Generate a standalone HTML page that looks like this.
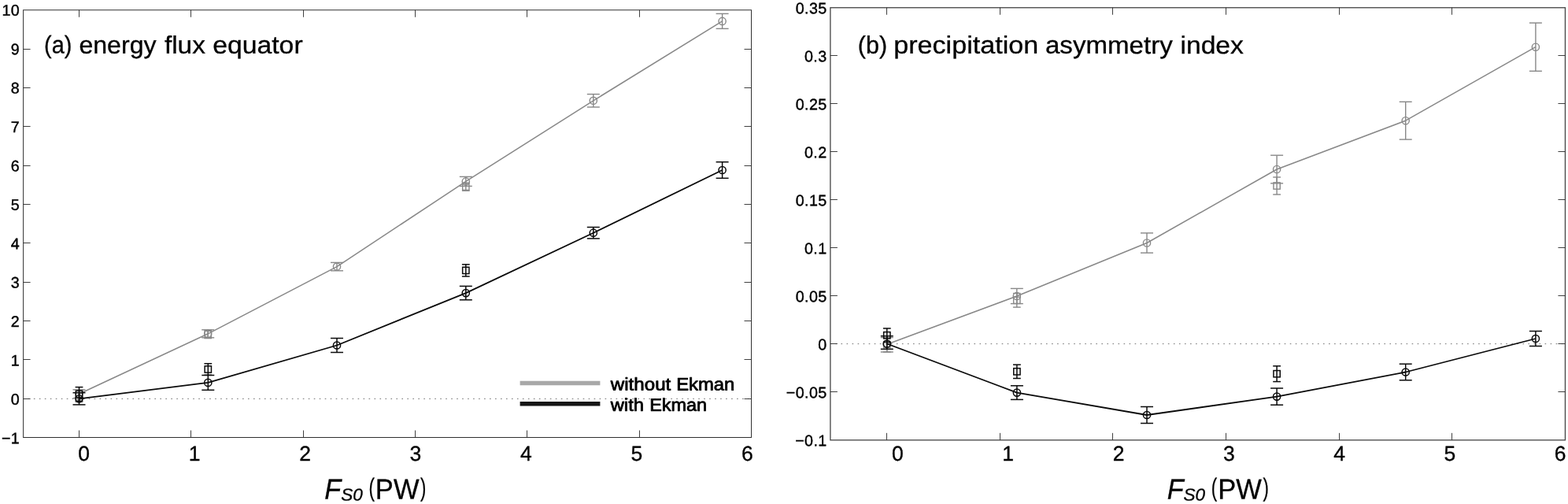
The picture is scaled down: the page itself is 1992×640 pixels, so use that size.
<!DOCTYPE html>
<html lang="en">
<head>
<meta charset="utf-8">
<title>Energy flux equator and precipitation asymmetry index</title>
<style>
html,body{margin:0;padding:0;background:#fff;}
body{width:1992px;height:640px;overflow:hidden;}
svg{display:block;}
svg text{font-family:"Liberation Sans", sans-serif;fill:#000;text-rendering:geometricPrecision;}
</style>
</head>
<body>
<svg width="1992" height="640" viewBox="0 0 1992 640">
<rect x="0" y="0" width="1992" height="640" fill="#fff"/>
<line x1="35.90" y1="506.40" x2="954.50" y2="506.40" stroke="#727272" stroke-width="1.0" stroke-dasharray="1.6 5.378"/>
<line x1="100.50" y1="494.80" x2="100.50" y2="510.60" stroke="#888888" stroke-width="1.4" />
<line x1="95.60" y1="494.80" x2="105.40" y2="494.80" stroke="#888888" stroke-width="1.4" />
<line x1="95.60" y1="510.60" x2="105.40" y2="510.60" stroke="#888888" stroke-width="1.4" />
<rect x="96.35" y="498.55" width="8.3" height="8.3" fill="none" stroke="#888888" stroke-width="1.4"/>
<line x1="264.20" y1="419.40" x2="264.20" y2="429.60" stroke="#888888" stroke-width="1.4" />
<line x1="259.30" y1="419.40" x2="269.10" y2="419.40" stroke="#888888" stroke-width="1.4" />
<line x1="259.30" y1="429.60" x2="269.10" y2="429.60" stroke="#888888" stroke-width="1.4" />
<rect x="260.05" y="420.35" width="8.3" height="8.3" fill="none" stroke="#888888" stroke-width="1.4"/>
<line x1="591.80" y1="232.20" x2="591.80" y2="242.20" stroke="#888888" stroke-width="1.4" />
<line x1="586.90" y1="232.20" x2="596.70" y2="232.20" stroke="#888888" stroke-width="1.4" />
<line x1="586.90" y1="242.20" x2="596.70" y2="242.20" stroke="#888888" stroke-width="1.4" />
<rect x="587.65" y="233.05" width="8.3" height="8.3" fill="none" stroke="#888888" stroke-width="1.4"/>
<line x1="100.50" y1="494.80" x2="100.50" y2="505.60" stroke="#888888" stroke-width="1.4" />
<line x1="92.50" y1="494.80" x2="108.50" y2="494.80" stroke="#888888" stroke-width="1.4" />
<line x1="92.50" y1="505.60" x2="108.50" y2="505.60" stroke="#888888" stroke-width="1.4" />
<circle cx="100.50" cy="500.20" r="4.6" fill="none" stroke="#888888" stroke-width="1.4"/>
<line x1="264.20" y1="418.80" x2="264.20" y2="428.80" stroke="#888888" stroke-width="1.4" />
<line x1="256.20" y1="418.80" x2="272.20" y2="418.80" stroke="#888888" stroke-width="1.4" />
<line x1="256.20" y1="428.80" x2="272.20" y2="428.80" stroke="#888888" stroke-width="1.4" />
<circle cx="264.20" cy="423.80" r="4.6" fill="none" stroke="#888888" stroke-width="1.4"/>
<line x1="428.00" y1="333.40" x2="428.00" y2="343.80" stroke="#888888" stroke-width="1.4" />
<line x1="420.00" y1="333.40" x2="436.00" y2="333.40" stroke="#888888" stroke-width="1.4" />
<line x1="420.00" y1="343.80" x2="436.00" y2="343.80" stroke="#888888" stroke-width="1.4" />
<circle cx="428.00" cy="338.60" r="4.6" fill="none" stroke="#888888" stroke-width="1.4"/>
<line x1="591.80" y1="224.40" x2="591.80" y2="236.40" stroke="#888888" stroke-width="1.4" />
<line x1="583.80" y1="224.40" x2="599.80" y2="224.40" stroke="#888888" stroke-width="1.4" />
<line x1="583.80" y1="236.40" x2="599.80" y2="236.40" stroke="#888888" stroke-width="1.4" />
<circle cx="591.80" cy="230.40" r="4.6" fill="none" stroke="#888888" stroke-width="1.4"/>
<line x1="753.80" y1="119.60" x2="753.80" y2="136.00" stroke="#888888" stroke-width="1.4" />
<line x1="745.80" y1="119.60" x2="761.80" y2="119.60" stroke="#888888" stroke-width="1.4" />
<line x1="745.80" y1="136.00" x2="761.80" y2="136.00" stroke="#888888" stroke-width="1.4" />
<circle cx="753.80" cy="127.80" r="4.6" fill="none" stroke="#888888" stroke-width="1.4"/>
<line x1="917.60" y1="17.40" x2="917.60" y2="36.40" stroke="#888888" stroke-width="1.4" />
<line x1="909.60" y1="17.40" x2="925.60" y2="17.40" stroke="#888888" stroke-width="1.4" />
<line x1="909.60" y1="36.40" x2="925.60" y2="36.40" stroke="#888888" stroke-width="1.4" />
<circle cx="917.60" cy="26.90" r="4.6" fill="none" stroke="#888888" stroke-width="1.4"/>
<polyline points="100.50,500.20 264.20,423.80 428.00,338.60 591.80,230.40 753.80,127.80 917.60,26.90" fill="none" stroke="#888888" stroke-width="1.5" stroke-linejoin="round"/>
<line x1="100.50" y1="491.60" x2="100.50" y2="509.20" stroke="#0a0a0a" stroke-width="1.5" />
<line x1="95.60" y1="491.60" x2="105.40" y2="491.60" stroke="#0a0a0a" stroke-width="1.5" />
<line x1="95.60" y1="509.20" x2="105.40" y2="509.20" stroke="#0a0a0a" stroke-width="1.5" />
<rect x="96.35" y="496.25" width="8.3" height="8.3" fill="none" stroke="#0a0a0a" stroke-width="1.5"/>
<line x1="264.30" y1="461.70" x2="264.30" y2="476.30" stroke="#0a0a0a" stroke-width="1.5" />
<line x1="259.40" y1="461.70" x2="269.20" y2="461.70" stroke="#0a0a0a" stroke-width="1.5" />
<line x1="259.40" y1="476.30" x2="269.20" y2="476.30" stroke="#0a0a0a" stroke-width="1.5" />
<rect x="260.15" y="464.85" width="8.3" height="8.3" fill="none" stroke="#0a0a0a" stroke-width="1.5"/>
<line x1="591.80" y1="335.80" x2="591.80" y2="351.00" stroke="#0a0a0a" stroke-width="1.5" />
<line x1="586.90" y1="335.80" x2="596.70" y2="335.80" stroke="#0a0a0a" stroke-width="1.5" />
<line x1="586.90" y1="351.00" x2="596.70" y2="351.00" stroke="#0a0a0a" stroke-width="1.5" />
<rect x="587.65" y="339.25" width="8.3" height="8.3" fill="none" stroke="#0a0a0a" stroke-width="1.5"/>
<line x1="100.50" y1="498.70" x2="100.50" y2="513.90" stroke="#0a0a0a" stroke-width="1.5" />
<line x1="92.50" y1="498.70" x2="108.50" y2="498.70" stroke="#0a0a0a" stroke-width="1.5" />
<line x1="92.50" y1="513.90" x2="108.50" y2="513.90" stroke="#0a0a0a" stroke-width="1.5" />
<circle cx="100.50" cy="506.30" r="4.6" fill="none" stroke="#0a0a0a" stroke-width="1.5"/>
<line x1="264.30" y1="476.50" x2="264.30" y2="495.30" stroke="#0a0a0a" stroke-width="1.5" />
<line x1="256.30" y1="476.50" x2="272.30" y2="476.50" stroke="#0a0a0a" stroke-width="1.5" />
<line x1="256.30" y1="495.30" x2="272.30" y2="495.30" stroke="#0a0a0a" stroke-width="1.5" />
<circle cx="264.30" cy="485.90" r="4.6" fill="none" stroke="#0a0a0a" stroke-width="1.5"/>
<line x1="428.00" y1="429.50" x2="428.00" y2="447.50" stroke="#0a0a0a" stroke-width="1.5" />
<line x1="420.00" y1="429.50" x2="436.00" y2="429.50" stroke="#0a0a0a" stroke-width="1.5" />
<line x1="420.00" y1="447.50" x2="436.00" y2="447.50" stroke="#0a0a0a" stroke-width="1.5" />
<circle cx="428.00" cy="438.50" r="4.6" fill="none" stroke="#0a0a0a" stroke-width="1.5"/>
<line x1="591.80" y1="363.40" x2="591.80" y2="380.80" stroke="#0a0a0a" stroke-width="1.5" />
<line x1="583.80" y1="363.40" x2="599.80" y2="363.40" stroke="#0a0a0a" stroke-width="1.5" />
<line x1="583.80" y1="380.80" x2="599.80" y2="380.80" stroke="#0a0a0a" stroke-width="1.5" />
<circle cx="591.80" cy="372.10" r="4.6" fill="none" stroke="#0a0a0a" stroke-width="1.5"/>
<line x1="753.80" y1="288.50" x2="753.80" y2="302.90" stroke="#0a0a0a" stroke-width="1.5" />
<line x1="745.80" y1="288.50" x2="761.80" y2="288.50" stroke="#0a0a0a" stroke-width="1.5" />
<line x1="745.80" y1="302.90" x2="761.80" y2="302.90" stroke="#0a0a0a" stroke-width="1.5" />
<circle cx="753.80" cy="295.70" r="4.6" fill="none" stroke="#0a0a0a" stroke-width="1.5"/>
<line x1="917.60" y1="205.70" x2="917.60" y2="226.30" stroke="#0a0a0a" stroke-width="1.5" />
<line x1="909.60" y1="205.70" x2="925.60" y2="205.70" stroke="#0a0a0a" stroke-width="1.5" />
<line x1="909.60" y1="226.30" x2="925.60" y2="226.30" stroke="#0a0a0a" stroke-width="1.5" />
<circle cx="917.60" cy="216.00" r="4.6" fill="none" stroke="#0a0a0a" stroke-width="1.5"/>
<polyline points="100.50,506.30 264.30,485.90 428.00,438.50 591.80,372.10 753.80,295.70 917.60,216.00" fill="none" stroke="#0a0a0a" stroke-width="1.8" stroke-linejoin="round"/>
<rect x="29.60" y="12.75" width="924.90" height="542.75" fill="none" stroke="#303030" stroke-width="1.0"/>
<line x1="100.50" y1="555.50" x2="100.50" y2="546.50" stroke="#2a2a2a" stroke-width="0.9" />
<line x1="100.50" y1="12.75" x2="100.50" y2="21.75" stroke="#2a2a2a" stroke-width="0.9" />
<line x1="242.50" y1="555.50" x2="242.50" y2="546.50" stroke="#2a2a2a" stroke-width="0.9" />
<line x1="242.50" y1="12.75" x2="242.50" y2="21.75" stroke="#2a2a2a" stroke-width="0.9" />
<line x1="385.50" y1="555.50" x2="385.50" y2="546.50" stroke="#2a2a2a" stroke-width="0.9" />
<line x1="385.50" y1="12.75" x2="385.50" y2="21.75" stroke="#2a2a2a" stroke-width="0.9" />
<line x1="527.50" y1="555.50" x2="527.50" y2="546.50" stroke="#2a2a2a" stroke-width="0.9" />
<line x1="527.50" y1="12.75" x2="527.50" y2="21.75" stroke="#2a2a2a" stroke-width="0.9" />
<line x1="669.50" y1="555.50" x2="669.50" y2="546.50" stroke="#2a2a2a" stroke-width="0.9" />
<line x1="669.50" y1="12.75" x2="669.50" y2="21.75" stroke="#2a2a2a" stroke-width="0.9" />
<line x1="812.50" y1="555.50" x2="812.50" y2="546.50" stroke="#2a2a2a" stroke-width="0.9" />
<line x1="812.50" y1="12.75" x2="812.50" y2="21.75" stroke="#2a2a2a" stroke-width="0.9" />
<line x1="29.60" y1="62.50" x2="38.60" y2="62.50" stroke="#2a2a2a" stroke-width="0.9" />
<line x1="954.50" y1="62.50" x2="945.50" y2="62.50" stroke="#2a2a2a" stroke-width="0.9" />
<line x1="29.60" y1="111.50" x2="38.60" y2="111.50" stroke="#2a2a2a" stroke-width="0.9" />
<line x1="954.50" y1="111.50" x2="945.50" y2="111.50" stroke="#2a2a2a" stroke-width="0.9" />
<line x1="29.60" y1="160.50" x2="38.60" y2="160.50" stroke="#2a2a2a" stroke-width="0.9" />
<line x1="954.50" y1="160.50" x2="945.50" y2="160.50" stroke="#2a2a2a" stroke-width="0.9" />
<line x1="29.60" y1="210.50" x2="38.60" y2="210.50" stroke="#2a2a2a" stroke-width="0.9" />
<line x1="954.50" y1="210.50" x2="945.50" y2="210.50" stroke="#2a2a2a" stroke-width="0.9" />
<line x1="29.60" y1="259.50" x2="38.60" y2="259.50" stroke="#2a2a2a" stroke-width="0.9" />
<line x1="954.50" y1="259.50" x2="945.50" y2="259.50" stroke="#2a2a2a" stroke-width="0.9" />
<line x1="29.60" y1="308.50" x2="38.60" y2="308.50" stroke="#2a2a2a" stroke-width="0.9" />
<line x1="954.50" y1="308.50" x2="945.50" y2="308.50" stroke="#2a2a2a" stroke-width="0.9" />
<line x1="29.60" y1="358.50" x2="38.60" y2="358.50" stroke="#2a2a2a" stroke-width="0.9" />
<line x1="954.50" y1="358.50" x2="945.50" y2="358.50" stroke="#2a2a2a" stroke-width="0.9" />
<line x1="29.60" y1="407.50" x2="38.60" y2="407.50" stroke="#2a2a2a" stroke-width="0.9" />
<line x1="954.50" y1="407.50" x2="945.50" y2="407.50" stroke="#2a2a2a" stroke-width="0.9" />
<line x1="29.60" y1="456.50" x2="38.60" y2="456.50" stroke="#2a2a2a" stroke-width="0.9" />
<line x1="954.50" y1="456.50" x2="945.50" y2="456.50" stroke="#2a2a2a" stroke-width="0.9" />
<line x1="29.60" y1="506.50" x2="38.60" y2="506.50" stroke="#2a2a2a" stroke-width="0.9" />
<line x1="954.50" y1="506.50" x2="945.50" y2="506.50" stroke="#2a2a2a" stroke-width="0.9" />
<text transform="matrix(1 0.0006 0 1 25.00 19.75)" font-size="19.7" text-anchor="end" font-weight="normal" letter-spacing="0.3" stroke="#000" stroke-width="0.4">10</text>
<text transform="matrix(1 0.0006 0 1 25.00 69.16)" font-size="19.7" text-anchor="end" font-weight="normal" letter-spacing="0.3" stroke="#000" stroke-width="0.4">9</text>
<text transform="matrix(1 0.0006 0 1 25.00 118.57)" font-size="19.7" text-anchor="end" font-weight="normal" letter-spacing="0.3" stroke="#000" stroke-width="0.4">8</text>
<text transform="matrix(1 0.0006 0 1 25.00 167.98)" font-size="19.7" text-anchor="end" font-weight="normal" letter-spacing="0.3" stroke="#000" stroke-width="0.4">7</text>
<text transform="matrix(1 0.0006 0 1 25.00 217.39)" font-size="19.7" text-anchor="end" font-weight="normal" letter-spacing="0.3" stroke="#000" stroke-width="0.4">6</text>
<text transform="matrix(1 0.0006 0 1 25.00 266.80)" font-size="19.7" text-anchor="end" font-weight="normal" letter-spacing="0.3" stroke="#000" stroke-width="0.4">5</text>
<text transform="matrix(1 0.0006 0 1 25.00 316.20)" font-size="19.7" text-anchor="end" font-weight="normal" letter-spacing="0.3" stroke="#000" stroke-width="0.4">4</text>
<text transform="matrix(1 0.0006 0 1 25.00 365.61)" font-size="19.7" text-anchor="end" font-weight="normal" letter-spacing="0.3" stroke="#000" stroke-width="0.4">3</text>
<text transform="matrix(1 0.0006 0 1 25.00 415.02)" font-size="19.7" text-anchor="end" font-weight="normal" letter-spacing="0.3" stroke="#000" stroke-width="0.4">2</text>
<text transform="matrix(1 0.0006 0 1 25.00 464.43)" font-size="19.7" text-anchor="end" font-weight="normal" letter-spacing="0.3" stroke="#000" stroke-width="0.4">1</text>
<text transform="matrix(1 0.0006 0 1 25.00 513.84)" font-size="19.7" text-anchor="end" font-weight="normal" letter-spacing="0.3" stroke="#000" stroke-width="0.4">0</text>
<text transform="matrix(1 0.0006 0 1 25.00 563.25)" font-size="19.7" text-anchor="end" font-weight="normal" letter-spacing="0.3" stroke="#000" stroke-width="0.4">−1</text>
<text transform="matrix(1 0.0006 0 1 106.60 584.90)" font-size="26.5" text-anchor="middle" font-weight="normal" letter-spacing="0" stroke="#000" stroke-width="0.35">0</text>
<text transform="matrix(1 0.0006 0 1 247.05 584.90)" font-size="26.5" text-anchor="middle" font-weight="normal" letter-spacing="0" stroke="#000" stroke-width="0.35">1</text>
<text transform="matrix(1 0.0006 0 1 387.50 584.90)" font-size="26.5" text-anchor="middle" font-weight="normal" letter-spacing="0" stroke="#000" stroke-width="0.35">2</text>
<text transform="matrix(1 0.0006 0 1 527.95 584.90)" font-size="26.5" text-anchor="middle" font-weight="normal" letter-spacing="0" stroke="#000" stroke-width="0.35">3</text>
<text transform="matrix(1 0.0006 0 1 668.40 584.90)" font-size="26.5" text-anchor="middle" font-weight="normal" letter-spacing="0" stroke="#000" stroke-width="0.35">4</text>
<text transform="matrix(1 0.0006 0 1 808.85 584.90)" font-size="26.5" text-anchor="middle" font-weight="normal" letter-spacing="0" stroke="#000" stroke-width="0.35">5</text>
<text transform="matrix(1 0.0006 0 1 949.30 584.90)" font-size="26.5" text-anchor="middle" font-weight="normal" letter-spacing="0" stroke="#000" stroke-width="0.35">6</text>
<text transform="matrix(1 0.0006 0 1 57.70 67.60)" stroke="#000" stroke-width="0.3" ><tspan x="-1.62" y="0.00" font-size="31.3" textLength="35.35" lengthAdjust="spacingAndGlyphs" >(a)</tspan> <tspan x="42.72" y="0.00" font-size="31.3" textLength="98.13" lengthAdjust="spacingAndGlyphs" >energy</tspan> <tspan x="151.23" y="0.00" font-size="31.3" textLength="51.98" lengthAdjust="spacingAndGlyphs" >flux</tspan> <tspan x="212.45" y="0.00" font-size="31.3" textLength="114.49" lengthAdjust="spacingAndGlyphs" >equator</tspan></text>
<text transform="matrix(1 0.0006 0 1 413.30 633.40)" stroke="#000" stroke-width="0.3" ><tspan x="-0.95" y="0.00" font-size="36.0" textLength="20.89" lengthAdjust="spacingAndGlyphs" font-style="italic">F</tspan><tspan x="19.88" y="2.20" font-size="21.6" textLength="27.60" lengthAdjust="spacingAndGlyphs" font-style="italic">S0</tspan> <tspan x="55.19" y="-3.20" font-size="32.4" textLength="7.44" lengthAdjust="spacingAndGlyphs" >(</tspan><tspan x="63.56" y="0.00" font-size="36.0" textLength="55.64" lengthAdjust="spacingAndGlyphs" >PW</tspan><tspan x="120.80" y="-3.20" font-size="32.4" textLength="7.32" lengthAdjust="spacingAndGlyphs" >)</tspan></text>
<line x1="660.60" y1="486.50" x2="762.40" y2="486.50" stroke="#a8a8a8" stroke-width="5.5" />
<line x1="660.60" y1="512.80" x2="762.40" y2="512.80" stroke="#161616" stroke-width="5.5" />
<text transform="matrix(1 0.0006 0 1 775.20 495.50)" stroke="#000" stroke-width="0.8" stroke-linejoin="round" ><tspan x="0.54" y="0.00" font-size="22.5" textLength="76.55" lengthAdjust="spacingAndGlyphs" >without</tspan> <tspan x="83.96" y="0.00" font-size="22.5" textLength="74.13" lengthAdjust="spacingAndGlyphs" >Ekman</tspan></text>
<text transform="matrix(1 0.0006 0 1 775.20 521.80)" stroke="#000" stroke-width="0.8" stroke-linejoin="round" ><tspan x="0.53" y="0.00" font-size="22.5" textLength="42.24" lengthAdjust="spacingAndGlyphs" >with</tspan> <tspan x="49.94" y="0.00" font-size="22.5" textLength="72.94" lengthAdjust="spacingAndGlyphs" >Ekman</tspan></text>
<line x1="1061.47" y1="436.64" x2="1988.45" y2="436.64" stroke="#727272" stroke-width="1.0" stroke-dasharray="1.6 5.440"/>
<line x1="1126.80" y1="428.60" x2="1126.80" y2="447.00" stroke="#888888" stroke-width="1.4" />
<line x1="1121.90" y1="428.60" x2="1131.70" y2="428.60" stroke="#888888" stroke-width="1.4" />
<line x1="1121.90" y1="447.00" x2="1131.70" y2="447.00" stroke="#888888" stroke-width="1.4" />
<rect x="1122.65" y="433.45" width="8.3" height="8.3" fill="none" stroke="#888888" stroke-width="1.4"/>
<line x1="1291.80" y1="372.50" x2="1291.80" y2="390.10" stroke="#888888" stroke-width="1.4" />
<line x1="1286.90" y1="372.50" x2="1296.70" y2="372.50" stroke="#888888" stroke-width="1.4" />
<line x1="1286.90" y1="390.10" x2="1296.70" y2="390.10" stroke="#888888" stroke-width="1.4" />
<rect x="1287.65" y="377.15" width="8.3" height="8.3" fill="none" stroke="#888888" stroke-width="1.4"/>
<line x1="1622.10" y1="225.00" x2="1622.10" y2="247.00" stroke="#888888" stroke-width="1.4" />
<line x1="1617.20" y1="225.00" x2="1627.00" y2="225.00" stroke="#888888" stroke-width="1.4" />
<line x1="1617.20" y1="247.00" x2="1627.00" y2="247.00" stroke="#888888" stroke-width="1.4" />
<rect x="1617.95" y="231.85" width="8.3" height="8.3" fill="none" stroke="#888888" stroke-width="1.4"/>
<line x1="1126.80" y1="428.60" x2="1126.80" y2="447.00" stroke="#888888" stroke-width="1.4" />
<line x1="1118.80" y1="428.60" x2="1134.80" y2="428.60" stroke="#888888" stroke-width="1.4" />
<line x1="1118.80" y1="447.00" x2="1134.80" y2="447.00" stroke="#888888" stroke-width="1.4" />
<circle cx="1126.80" cy="437.30" r="4.6" fill="none" stroke="#888888" stroke-width="1.4"/>
<line x1="1291.80" y1="366.40" x2="1291.80" y2="385.60" stroke="#888888" stroke-width="1.4" />
<line x1="1283.80" y1="366.40" x2="1299.80" y2="366.40" stroke="#888888" stroke-width="1.4" />
<line x1="1283.80" y1="385.60" x2="1299.80" y2="385.60" stroke="#888888" stroke-width="1.4" />
<circle cx="1291.80" cy="376.00" r="4.6" fill="none" stroke="#888888" stroke-width="1.4"/>
<line x1="1457.00" y1="295.90" x2="1457.00" y2="321.10" stroke="#888888" stroke-width="1.4" />
<line x1="1449.00" y1="295.90" x2="1465.00" y2="295.90" stroke="#888888" stroke-width="1.4" />
<line x1="1449.00" y1="321.10" x2="1465.00" y2="321.10" stroke="#888888" stroke-width="1.4" />
<circle cx="1457.00" cy="308.50" r="4.6" fill="none" stroke="#888888" stroke-width="1.4"/>
<line x1="1622.10" y1="197.20" x2="1622.10" y2="232.80" stroke="#888888" stroke-width="1.4" />
<line x1="1614.10" y1="197.20" x2="1630.10" y2="197.20" stroke="#888888" stroke-width="1.4" />
<line x1="1614.10" y1="232.80" x2="1630.10" y2="232.80" stroke="#888888" stroke-width="1.4" />
<circle cx="1622.10" cy="215.00" r="4.6" fill="none" stroke="#888888" stroke-width="1.4"/>
<line x1="1785.70" y1="129.30" x2="1785.70" y2="177.10" stroke="#888888" stroke-width="1.4" />
<line x1="1777.70" y1="129.30" x2="1793.70" y2="129.30" stroke="#888888" stroke-width="1.4" />
<line x1="1777.70" y1="177.10" x2="1793.70" y2="177.10" stroke="#888888" stroke-width="1.4" />
<circle cx="1785.70" cy="153.20" r="4.6" fill="none" stroke="#888888" stroke-width="1.4"/>
<line x1="1950.90" y1="29.10" x2="1950.90" y2="90.30" stroke="#888888" stroke-width="1.4" />
<line x1="1942.90" y1="29.10" x2="1958.90" y2="29.10" stroke="#888888" stroke-width="1.4" />
<line x1="1942.90" y1="90.30" x2="1958.90" y2="90.30" stroke="#888888" stroke-width="1.4" />
<circle cx="1950.90" cy="59.70" r="4.6" fill="none" stroke="#888888" stroke-width="1.4"/>
<polyline points="1126.80,437.30 1291.80,376.00 1457.00,308.50 1622.10,215.00 1785.70,153.20 1950.90,59.70" fill="none" stroke="#888888" stroke-width="1.5" stroke-linejoin="round"/>
<line x1="1126.80" y1="417.00" x2="1126.80" y2="434.50" stroke="#0a0a0a" stroke-width="1.5" />
<line x1="1121.90" y1="417.00" x2="1131.70" y2="417.00" stroke="#0a0a0a" stroke-width="1.5" />
<line x1="1121.90" y1="434.50" x2="1131.70" y2="434.50" stroke="#0a0a0a" stroke-width="1.5" />
<rect x="1122.65" y="421.60" width="8.3" height="8.3" fill="none" stroke="#0a0a0a" stroke-width="1.5"/>
<line x1="1291.90" y1="463.10" x2="1291.90" y2="480.50" stroke="#0a0a0a" stroke-width="1.5" />
<line x1="1287.00" y1="463.10" x2="1296.80" y2="463.10" stroke="#0a0a0a" stroke-width="1.5" />
<line x1="1287.00" y1="480.50" x2="1296.80" y2="480.50" stroke="#0a0a0a" stroke-width="1.5" />
<rect x="1287.75" y="467.65" width="8.3" height="8.3" fill="none" stroke="#0a0a0a" stroke-width="1.5"/>
<line x1="1622.10" y1="464.80" x2="1622.10" y2="484.60" stroke="#0a0a0a" stroke-width="1.5" />
<line x1="1617.20" y1="464.80" x2="1627.00" y2="464.80" stroke="#0a0a0a" stroke-width="1.5" />
<line x1="1617.20" y1="484.60" x2="1627.00" y2="484.60" stroke="#0a0a0a" stroke-width="1.5" />
<rect x="1617.95" y="470.55" width="8.3" height="8.3" fill="none" stroke="#0a0a0a" stroke-width="1.5"/>
<line x1="1126.80" y1="426.70" x2="1126.80" y2="443.30" stroke="#0a0a0a" stroke-width="1.5" />
<line x1="1118.80" y1="426.70" x2="1134.80" y2="426.70" stroke="#0a0a0a" stroke-width="1.5" />
<line x1="1118.80" y1="443.30" x2="1134.80" y2="443.30" stroke="#0a0a0a" stroke-width="1.5" />
<circle cx="1126.80" cy="436.50" r="4.6" fill="none" stroke="#0a0a0a" stroke-width="1.5"/>
<line x1="1291.90" y1="489.80" x2="1291.90" y2="507.40" stroke="#0a0a0a" stroke-width="1.5" />
<line x1="1283.90" y1="489.80" x2="1299.90" y2="489.80" stroke="#0a0a0a" stroke-width="1.5" />
<line x1="1283.90" y1="507.40" x2="1299.90" y2="507.40" stroke="#0a0a0a" stroke-width="1.5" />
<circle cx="1291.90" cy="498.60" r="4.6" fill="none" stroke="#0a0a0a" stroke-width="1.5"/>
<line x1="1457.00" y1="516.50" x2="1457.00" y2="537.50" stroke="#0a0a0a" stroke-width="1.5" />
<line x1="1449.00" y1="516.50" x2="1465.00" y2="516.50" stroke="#0a0a0a" stroke-width="1.5" />
<line x1="1449.00" y1="537.50" x2="1465.00" y2="537.50" stroke="#0a0a0a" stroke-width="1.5" />
<circle cx="1457.00" cy="527.00" r="4.6" fill="none" stroke="#0a0a0a" stroke-width="1.5"/>
<line x1="1622.10" y1="493.00" x2="1622.10" y2="514.20" stroke="#0a0a0a" stroke-width="1.5" />
<line x1="1614.10" y1="493.00" x2="1630.10" y2="493.00" stroke="#0a0a0a" stroke-width="1.5" />
<line x1="1614.10" y1="514.20" x2="1630.10" y2="514.20" stroke="#0a0a0a" stroke-width="1.5" />
<circle cx="1622.10" cy="503.60" r="4.6" fill="none" stroke="#0a0a0a" stroke-width="1.5"/>
<line x1="1785.70" y1="462.20" x2="1785.70" y2="482.80" stroke="#0a0a0a" stroke-width="1.5" />
<line x1="1777.70" y1="462.20" x2="1793.70" y2="462.20" stroke="#0a0a0a" stroke-width="1.5" />
<line x1="1777.70" y1="482.80" x2="1793.70" y2="482.80" stroke="#0a0a0a" stroke-width="1.5" />
<circle cx="1785.70" cy="472.50" r="4.6" fill="none" stroke="#0a0a0a" stroke-width="1.5"/>
<line x1="1950.90" y1="420.50" x2="1950.90" y2="439.50" stroke="#0a0a0a" stroke-width="1.5" />
<line x1="1942.90" y1="420.50" x2="1958.90" y2="420.50" stroke="#0a0a0a" stroke-width="1.5" />
<line x1="1942.90" y1="439.50" x2="1958.90" y2="439.50" stroke="#0a0a0a" stroke-width="1.5" />
<circle cx="1950.90" cy="430.00" r="4.6" fill="none" stroke="#0a0a0a" stroke-width="1.5"/>
<polyline points="1126.80,436.50 1291.90,498.60 1457.00,527.00 1622.10,503.60 1785.70,472.50 1950.90,430.00" fill="none" stroke="#0a0a0a" stroke-width="1.8" stroke-linejoin="round"/>
<rect x="1054.90" y="9.75" width="933.55" height="549.10" fill="none" stroke="#444" stroke-width="1.3"/>
<line x1="1126.50" y1="558.85" x2="1126.50" y2="549.85" stroke="#2a2a2a" stroke-width="0.9" />
<line x1="1126.50" y1="9.75" x2="1126.50" y2="18.75" stroke="#2a2a2a" stroke-width="0.9" />
<line x1="1270.50" y1="558.85" x2="1270.50" y2="549.85" stroke="#2a2a2a" stroke-width="0.9" />
<line x1="1270.50" y1="9.75" x2="1270.50" y2="18.75" stroke="#2a2a2a" stroke-width="0.9" />
<line x1="1413.50" y1="558.85" x2="1413.50" y2="549.85" stroke="#2a2a2a" stroke-width="0.9" />
<line x1="1413.50" y1="9.75" x2="1413.50" y2="18.75" stroke="#2a2a2a" stroke-width="0.9" />
<line x1="1557.50" y1="558.85" x2="1557.50" y2="549.85" stroke="#2a2a2a" stroke-width="0.9" />
<line x1="1557.50" y1="9.75" x2="1557.50" y2="18.75" stroke="#2a2a2a" stroke-width="0.9" />
<line x1="1701.50" y1="558.85" x2="1701.50" y2="549.85" stroke="#2a2a2a" stroke-width="0.9" />
<line x1="1701.50" y1="9.75" x2="1701.50" y2="18.75" stroke="#2a2a2a" stroke-width="0.9" />
<line x1="1844.50" y1="558.85" x2="1844.50" y2="549.85" stroke="#2a2a2a" stroke-width="0.9" />
<line x1="1844.50" y1="9.75" x2="1844.50" y2="18.75" stroke="#2a2a2a" stroke-width="0.9" />
<line x1="1054.90" y1="70.50" x2="1063.90" y2="70.50" stroke="#2a2a2a" stroke-width="0.9" />
<line x1="1988.45" y1="70.50" x2="1979.45" y2="70.50" stroke="#2a2a2a" stroke-width="0.9" />
<line x1="1054.90" y1="131.50" x2="1063.90" y2="131.50" stroke="#2a2a2a" stroke-width="0.9" />
<line x1="1988.45" y1="131.50" x2="1979.45" y2="131.50" stroke="#2a2a2a" stroke-width="0.9" />
<line x1="1054.90" y1="192.50" x2="1063.90" y2="192.50" stroke="#2a2a2a" stroke-width="0.9" />
<line x1="1988.45" y1="192.50" x2="1979.45" y2="192.50" stroke="#2a2a2a" stroke-width="0.9" />
<line x1="1054.90" y1="253.50" x2="1063.90" y2="253.50" stroke="#2a2a2a" stroke-width="0.9" />
<line x1="1988.45" y1="253.50" x2="1979.45" y2="253.50" stroke="#2a2a2a" stroke-width="0.9" />
<line x1="1054.90" y1="314.50" x2="1063.90" y2="314.50" stroke="#2a2a2a" stroke-width="0.9" />
<line x1="1988.45" y1="314.50" x2="1979.45" y2="314.50" stroke="#2a2a2a" stroke-width="0.9" />
<line x1="1054.90" y1="375.50" x2="1063.90" y2="375.50" stroke="#2a2a2a" stroke-width="0.9" />
<line x1="1988.45" y1="375.50" x2="1979.45" y2="375.50" stroke="#2a2a2a" stroke-width="0.9" />
<line x1="1054.90" y1="436.50" x2="1063.90" y2="436.50" stroke="#2a2a2a" stroke-width="0.9" />
<line x1="1988.45" y1="436.50" x2="1979.45" y2="436.50" stroke="#2a2a2a" stroke-width="0.9" />
<line x1="1054.90" y1="497.50" x2="1063.90" y2="497.50" stroke="#2a2a2a" stroke-width="0.9" />
<line x1="1988.45" y1="497.50" x2="1979.45" y2="497.50" stroke="#2a2a2a" stroke-width="0.9" />
<text transform="matrix(1 0.0006 0 1 1050.60 17.15)" font-size="19.7" text-anchor="end" font-weight="normal" letter-spacing="0.4" stroke="#000" stroke-width="0.4">0.35</text>
<text transform="matrix(1 0.0006 0 1 1050.60 78.16)" font-size="19.7" text-anchor="end" font-weight="normal" letter-spacing="0.4" stroke="#000" stroke-width="0.4">0.3</text>
<text transform="matrix(1 0.0006 0 1 1050.60 139.16)" font-size="19.7" text-anchor="end" font-weight="normal" letter-spacing="0.4" stroke="#000" stroke-width="0.4">0.25</text>
<text transform="matrix(1 0.0006 0 1 1050.60 200.17)" font-size="19.7" text-anchor="end" font-weight="normal" letter-spacing="0.4" stroke="#000" stroke-width="0.4">0.2</text>
<text transform="matrix(1 0.0006 0 1 1050.60 261.17)" font-size="19.7" text-anchor="end" font-weight="normal" letter-spacing="0.4" stroke="#000" stroke-width="0.4">0.15</text>
<text transform="matrix(1 0.0006 0 1 1050.60 322.18)" font-size="19.7" text-anchor="end" font-weight="normal" letter-spacing="0.4" stroke="#000" stroke-width="0.4">0.1</text>
<text transform="matrix(1 0.0006 0 1 1050.60 383.18)" font-size="19.7" text-anchor="end" font-weight="normal" letter-spacing="0.4" stroke="#000" stroke-width="0.4">0.05</text>
<text transform="matrix(1 0.0006 0 1 1050.60 444.19)" font-size="19.7" text-anchor="end" font-weight="normal" letter-spacing="0.4" stroke="#000" stroke-width="0.4">0</text>
<text transform="matrix(1 0.0006 0 1 1050.60 505.19)" font-size="19.7" text-anchor="end" font-weight="normal" letter-spacing="0.4" stroke="#000" stroke-width="0.4">−0.05</text>
<text transform="matrix(1 0.0006 0 1 1050.60 566.20)" font-size="19.7" text-anchor="end" font-weight="normal" letter-spacing="0.4" stroke="#000" stroke-width="0.4">−0.1</text>
<text transform="matrix(1 0.0006 0 1 1140.40 584.90)" font-size="26.5" text-anchor="middle" font-weight="normal" letter-spacing="0" stroke="#000" stroke-width="0.35">0</text>
<text transform="matrix(1 0.0006 0 1 1280.70 584.90)" font-size="26.5" text-anchor="middle" font-weight="normal" letter-spacing="0" stroke="#000" stroke-width="0.35">1</text>
<text transform="matrix(1 0.0006 0 1 1421.00 584.90)" font-size="26.5" text-anchor="middle" font-weight="normal" letter-spacing="0" stroke="#000" stroke-width="0.35">2</text>
<text transform="matrix(1 0.0006 0 1 1561.30 584.90)" font-size="26.5" text-anchor="middle" font-weight="normal" letter-spacing="0" stroke="#000" stroke-width="0.35">3</text>
<text transform="matrix(1 0.0006 0 1 1701.60 584.90)" font-size="26.5" text-anchor="middle" font-weight="normal" letter-spacing="0" stroke="#000" stroke-width="0.35">4</text>
<text transform="matrix(1 0.0006 0 1 1841.90 584.90)" font-size="26.5" text-anchor="middle" font-weight="normal" letter-spacing="0" stroke="#000" stroke-width="0.35">5</text>
<text transform="matrix(1 0.0006 0 1 1982.20 584.90)" font-size="26.5" text-anchor="middle" font-weight="normal" letter-spacing="0" stroke="#000" stroke-width="0.35">6</text>
<text transform="matrix(1 0.0006 0 1 1091.50 67.70)" stroke="#000" stroke-width="0.3" ><tspan x="-1.71" y="0.00" font-size="31.3" textLength="37.33" lengthAdjust="spacingAndGlyphs" >(b)</tspan> <tspan x="43.72" y="0.00" font-size="31.3" textLength="184.01" lengthAdjust="spacingAndGlyphs" >precipitation</tspan> <tspan x="236.48" y="0.00" font-size="31.3" textLength="161.74" lengthAdjust="spacingAndGlyphs" >asymmetry</tspan> <tspan x="407.95" y="0.00" font-size="31.3" textLength="80.50" lengthAdjust="spacingAndGlyphs" >index</tspan></text>
<text transform="matrix(1 0.0006 0 1 1483.65 633.40)" stroke="#000" stroke-width="0.3" ><tspan x="-0.95" y="0.00" font-size="36.0" textLength="20.89" lengthAdjust="spacingAndGlyphs" font-style="italic">F</tspan><tspan x="19.88" y="2.20" font-size="21.6" textLength="27.60" lengthAdjust="spacingAndGlyphs" font-style="italic">S0</tspan> <tspan x="55.19" y="-3.20" font-size="32.4" textLength="7.44" lengthAdjust="spacingAndGlyphs" >(</tspan><tspan x="63.56" y="0.00" font-size="36.0" textLength="55.64" lengthAdjust="spacingAndGlyphs" >PW</tspan><tspan x="120.80" y="-3.20" font-size="32.4" textLength="7.32" lengthAdjust="spacingAndGlyphs" >)</tspan></text>
</svg>
</body>
</html>
